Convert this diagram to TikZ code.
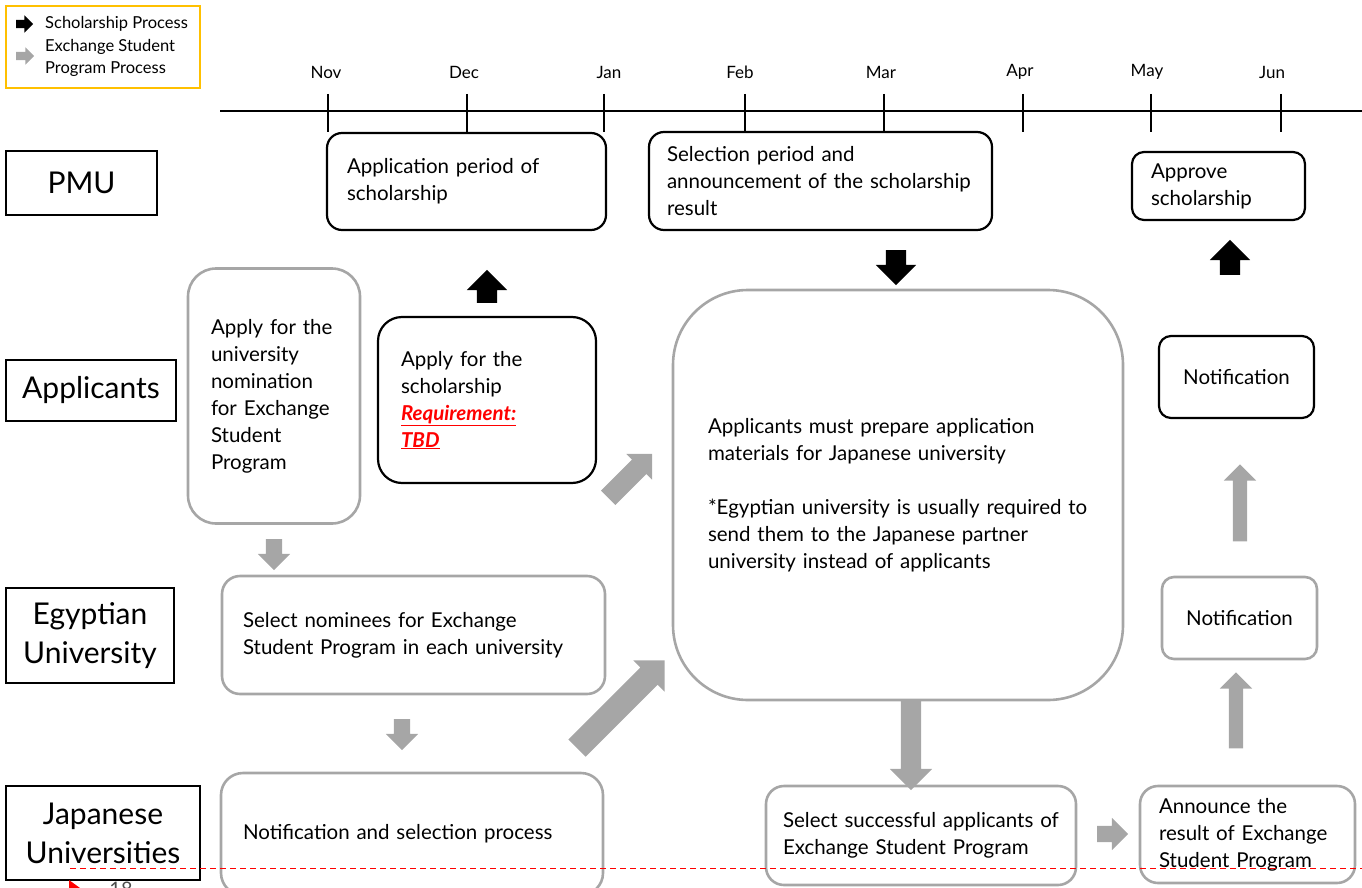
\documentclass[tikz,border=0pt]{standalone}
\usepackage{fontspec}
\setmainfont{Lato}
\usetikzlibrary{shapes.arrows}
\definecolor{flowgray}{HTML}{A6A6A6}
\definecolor{legendorange}{HTML}{FFC000}
\definecolor{slidered}{HTML}{FF0000}

\begin{document}
\begin{tikzpicture}[x=1pt,y=-1pt,
  every node/.style={font=\fontsize{20.5}{27}\selectfont},
  schbox/.style={draw=black, line width=2.2pt, inner ysep=0pt, align=left},
  exbox/.style={draw=flowgray, line width=2.6pt, inner ysep=0pt, align=left},
  rowlabel/.style={draw=black, line width=1.8pt, inner sep=0pt, align=center,
    font=\fontsize{30}{39}\selectfont},
  month/.style={font=\fontsize{17}{18}\selectfont},
  legendtext/.style={anchor=west, inner sep=0pt, font=\fontsize{16.5}{22}\selectfont},
  % length, shaft width, head extend on each side of the shaft
  blockarrow/.style n args={3}{single arrow, inner xsep=0pt, inner ysep=#2/2,
    outer sep=0pt, minimum height=#1, minimum width=#2+2*#3,
    single arrow head extend=#3},
  scharrow/.style={fill=black, draw=none},
  exarrow/.style={fill=flowgray, draw=none},
]
\useasboundingbox (0,0) rectangle (1362,888);

% legend
\node[draw=legendorange, line width=2.2pt, minimum width=194pt, minimum height=82pt,
  inner sep=0pt] (legend) at (103,47) {};
\node[scharrow, blockarrow={17pt}{8pt}{4.5pt}] (legSch) at (22.5,24) {};
\node[exarrow, blockarrow={18pt}{8pt}{4.5pt}] (legEx) at (23,56) {};
\node[legendtext] (legSchT) at (45,24) {Scholarship Process};
\node[legendtext, align=left] (legExT) at (45,58) {Exchange Student\\Program Process};

% timeline
\coordinate (tlStart) at (220,111);
\coordinate (tlEnd) at (1362,111);
\draw[line width=2pt] (tlStart) -- (tlEnd);
\foreach \m/\x/\lx in {Nov/328/326, Dec/467/464, Jan/604/609, Feb/745/740,
                       Mar/884/881, Apr/1023/1020, May/1151/1147, Jun/1281/1272} {
  \draw[line width=1.3pt] (\x,94) -- (\x,132);
  \node[month] (m\m) at (\lx,72) {\m};
}

% row labels
\node[rowlabel, minimum width=151pt, minimum height=64pt] (pmu) at (81.5,183) {PMU};
\node[rowlabel, minimum width=170pt, minimum height=61pt] (applicants) at (91,390.5) {Applicants};
\node[rowlabel, minimum width=168pt, minimum height=95pt] (egypt) at (90,635.5) {Egyptian\\University};
\node[rowlabel, minimum width=194pt, minimum height=94pt] (japan) at (103,833) {Japanese\\Universities};

% scholarship process boxes
\node[schbox, rounded corners=15pt, inner xsep=20pt, text width=239pt, minimum height=97pt]
  (appPeriod) at (466.5,181.5) {Application period of\\scholarship};
\node[schbox, rounded corners=15pt, inner xsep=18pt, text width=307pt, minimum height=98pt]
  (selPeriod) at (820.5,181) {Selection period and\\announcement of the scholarship\\result};
\node[schbox, rounded corners=12pt, inner xsep=19pt, text width=135pt, minimum height=68pt]
  (approve) at (1218.5,186) {Approve\\scholarship};
\node[schbox, rounded corners=24pt, inner xsep=23pt, text width=172pt, minimum height=166pt]
  (applySch) at (487,400) {Apply for the\\scholarship\\
  \textcolor{slidered}{\underline{\textbf{\textit{Requirement:}}}}\\
  \textcolor{slidered}{\underline{\textbf{\textit{TBD}}}}};
\node[schbox, rounded corners=12pt, align=center, inner xsep=0pt, text width=155pt, minimum height=82pt]
  (notifSch) at (1236.5,377) {Notification};

% exchange student program boxes
\node[exbox, rounded corners=28pt, inner xsep=23pt, text width=126pt, minimum height=255pt]
  (applyNom) at (274,396) {Apply for the\\university\\nomination\\for Exchange\\Student\\Program};
\node[exbox, rounded corners=18pt, inner xsep=21pt, text width=341pt, minimum height=118pt]
  (selNom) at (413.5,635) {Select nominees for Exchange\\Student Program in each university};
\node[exbox, rounded corners=22pt, inner xsep=22pt, text width=338pt, minimum height=122pt]
  (notifSel) at (412,834) {Notification and selection process};
\node[exbox, rounded corners=75pt, inner xsep=35pt, text width=380pt, minimum height=410pt]
  (prepare) at (898,495) {Applicants must prepare application\\materials for Japanese university\\[27pt]
  *Egyptian university is usually required to\\send them to the Japanese partner\\university instead of applicants};
\node[exbox, rounded corners=18pt, inner xsep=17pt, text width=276pt, minimum height=99pt]
  (selSucc) at (921,835.5) {Select successful applicants of\\Exchange Student Program};
\node[exbox, rounded corners=12pt, align=center, inner xsep=0pt, text width=155pt, minimum height=82pt]
  (notifEx) at (1239.5,618) {Notification};
\node[exbox, rounded corners=18pt, inner xsep=19pt, text width=177pt, minimum height=97pt]
  (announce) at (1247.5,834.5) {Announce the\\result of Exchange\\Student Program};

% scholarship flow arrows
\node[scharrow, blockarrow={33pt}{20pt}{10pt}, rotate=90] (upApply) at (487,291.5) {};
\node[scharrow, blockarrow={35pt}{20pt}{10pt}, rotate=-90] (downSel) at (896,262.5) {};
\node[scharrow, blockarrow={35pt}{20pt}{10pt}, rotate=90] (upApprove) at (1230,262.5) {};

% exchange flow arrows
\node[exarrow, blockarrow={31pt}{16pt}{8pt}, rotate=-90] (downNom) at (274,550.5) {};
\node[exarrow, blockarrow={31pt}{16pt}{8pt}, rotate=-90] (downSelNom) at (402,730.5) {};
\node[exarrow, blockarrow={62pt}{20pt}{8pt}, rotate=45] (diagApply) at (626.5,479.5) {};
\node[exarrow, blockarrow={124pt}{24pt}{10pt}, rotate=45] (diagSel) at (616.5,708.5) {};
\node[exarrow, blockarrow={90pt}{20pt}{11pt}, rotate=-90] (downPrep) at (911,740) {};
\node[exarrow, blockarrow={31pt}{16pt}{8pt}] (rightSucc) at (1108.5,834) {};
\node[exarrow, blockarrow={77pt}{14pt}{9pt}, rotate=90] (upNotif) at (1240,506.5) {};
\node[exarrow, blockarrow={76pt}{14pt}{9pt}, rotate=90] (upAnnounce) at (1236,714) {};

% slide footer
\coordinate (footStart) at (70,868);
\coordinate (footEnd) at (1362,868);
\draw[slidered, line width=1pt, dash pattern=on 6pt off 4pt] (footStart) -- (footEnd);
\fill[slidered] (69,880) -- (80,888) -- (69,892) -- cycle;
\node[font=\fontsize{20}{24}\selectfont, text=black!70] (pageNo) at (121,889) {18};
\end{tikzpicture}
\end{document}
